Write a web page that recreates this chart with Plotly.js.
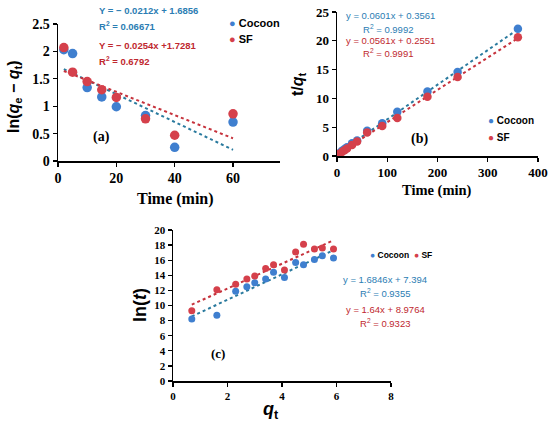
<!DOCTYPE html>
<html><head><meta charset="utf-8">
<script src="https://cdn.plot.ly/plotly-3.0.1.min.js"></script>
<style>html,body{margin:0;padding:0;background:#fff}</style>
</head><body><div id="chart" style="width:550px;height:422px"></div>
<script>
// ---- data ----
const timeA = [2, 5, 10, 15, 20, 30, 40, 60];
const lnA_cocoon = [2.03, 1.96, 1.34, 1.17, 0.99, 0.83, 0.25, 0.71];
const lnA_sf = [2.07, 1.62, 1.45, 1.30, 1.16, 0.77, 0.47, 0.86];
const lineA_cocoon = [-0.0254, 1.7281]; // dotted line as drawn (slope, intercept)
const lineA_sf = [-0.0212, 1.6856];
const lineA_x = [2, 60];

const timeB = [2, 5, 10, 15, 20, 30, 40, 60, 90, 120, 180, 240, 360];
const tqB_cocoon = [0.3, 0.5, 0.9, 1.2, 1.5, 2.2, 2.7, 4.4, 5.7, 7.7, 11.2, 14.6, 22.1];
const tqB_sf = [0.2, 0.4, 0.7, 1.0, 1.3, 1.9, 2.5, 4.1, 5.2, 6.6, 10.3, 13.7, 20.6];
const lineB_cocoon = [0.0601, 0.3561];
const lineB_sf = [0.0561, 0.2551];
const lineB_x = [0, 360];

const xC = [0.69, 1.61, 2.30, 2.71, 3.00, 3.40, 3.69, 4.09, 4.50, 4.79, 5.19, 5.48, 5.89];
const lnC_cocoon = [8.2, 8.7, 11.9, 12.5, 13.0, 13.5, 14.4, 13.7, 15.7, 15.4, 16.1, 16.6, 16.3];
const lnC_sf = [9.3, 12.1, 12.8, 13.5, 13.9, 14.9, 15.4, 14.7, 17.1, 18.1, 17.5, 17.6, 17.5];
const lineC_cocoon = [1.6846, 7.394];
const lineC_sf = [1.64, 8.9764];
const lineC_x = [0.69, 5.89];

const ticksA_x = [0, 20, 40, 60];
const ticksA_y = [0, 0.5, 1, 1.5, 2, 2.5];
const ticksA_ylab = ['0', '0.5', '1', '1.5', '2', '2.5'];
const ticksB_x = [0, 100, 200, 300, 400];
const ticksB_y = [0, 5, 10, 15, 20, 25];
const ticksC_x = [0, 2, 4, 6, 8];
const ticksC_y = [0, 2, 4, 6, 8, 10, 12, 14, 16, 18, 20];

// ---- styling ----
const BLUE = '#3f7fcf', RED = '#d5404b';
const EQBLUE = '#2b7db3', EQRED = '#c0282f';
const W = 550, H = 422;
const px = x => x / W, py = y => 1 - y / H;
const line = (c, xs) => xs.map(x => c[0] * x + c[1]);
const SERIF = "Liberation Serif, Times New Roman, Times, serif";
const SANS = "Liberation Sans, Arial, sans-serif";

function pts(x, y, xa, ya, color, size) {
  return {x, y, xaxis: xa, yaxis: ya, type: 'scatter', mode: 'markers',
    marker: {color, size, line: {width: 0}}, showlegend: false, hoverinfo: 'skip'};
}
function trend(xs, c, xa, ya, color) {
  return {x: xs, y: line(c, xs), xaxis: xa, yaxis: ya, type: 'scatter', mode: 'lines',
    line: {color, width: 2, dash: 'dot'}, showlegend: false, hoverinfo: 'skip'};
}

const traces = [
  trend(lineA_x, lineA_cocoon, 'x', 'y', '#2a7a9e'),
  trend(lineA_x, lineA_sf, 'x', 'y', '#c6323c'),
  pts(timeA, lnA_cocoon, 'x', 'y', BLUE, 9.5),
  pts(timeA, lnA_sf, 'x', 'y', RED, 9.5),
  trend(lineB_x, lineB_cocoon, 'x2', 'y2', '#2a7a9e'),
  trend(lineB_x, lineB_sf, 'x2', 'y2', '#c6323c'),
  pts(timeB, tqB_cocoon, 'x2', 'y2', BLUE, 8.5),
  pts(timeB, tqB_sf, 'x2', 'y2', RED, 8.5),
  trend(lineC_x, lineC_cocoon, 'x3', 'y3', '#2a7a9e'),
  trend(lineC_x, lineC_sf, 'x3', 'y3', '#c6323c'),
  pts(xC, lnC_cocoon, 'x3', 'y3', BLUE, 7),
  pts(xC, lnC_sf, 'x3', 'y3', RED, 7)
];

const serifB = (s) => ({family: SERIF, size: s, color: '#000', weight: 'bold'});
function ax(domain, range, tickvals, ticktext, anchor, fontSize) {
  const a = {domain, range, tickmode: 'array', tickvals, showline: true, linecolor: '#000',
    linewidth: 1.5, ticks: 'outside', ticklen: 4, tickwidth: 1.3, tickcolor: '#000',
    showgrid: false, zeroline: false, anchor, tickfont: serifB(fontSize), fixedrange: true};
  if (ticktext) a.ticktext = ticktext;
  return a;
}

const ann = [];
function t(x, y, text, font, opts) {
  ann.push(Object.assign({x: px(x), y: py(y), xref: 'paper', yref: 'paper', text, showarrow: false,
    xanchor: 'center', yanchor: 'middle', font}, opts || {}));
}
const sansB = (s, c) => ({family: SANS, size: s, color: c || '#000', weight: 'bold'});
const sans = (s, c) => ({family: SANS, size: s, color: c || '#000'});
const it = (s, size) => '<span style="font-style:italic;font-size:' + size + 'px">' + s + '</span>';
const dot = (c, size) => '<span style="color:' + c + ';font-size:' + size + 'px">●</span>';

// (a)
t(14, 97, 'ln(' + it('q', 16) + '<sub>e</sub> − ' + it('q', 16) + '<sub>t</sub>)', sansB(16), {textangle: -90});
t(175, 199, 'Time (min)', serifB(16));
t(97, 11, 'Y = − 0.0212x + 1.6856', sansB(9.5, EQBLUE), {xanchor: 'left'});
t(97, 26, 'R<sup>2</sup> = 0.06671', sansB(9.5, EQBLUE), {xanchor: 'left'});
t(97, 45, 'Y = − 0.0254x +1.7281', sansB(9.5, EQRED), {xanchor: 'left'});
t(97, 61, 'R<sup>2</sup> = 0.6792', sansB(9.5, EQRED), {xanchor: 'left'});
t(227, 23, dot(BLUE, 11) + ' Cocoon', sansB(11), {xanchor: 'left'});
t(227, 39, dot(RED, 11) + ' SF', sansB(11), {xanchor: 'left'});
t(101, 137, '(a)', serifB(14));

// (b)
t(298, 84, 't/' + it('q', 16) + '<sub>t</sub>', sansB(16), {textangle: -90});
t(437, 191, 'Time (min)', serifB(14.5));
t(390, 16, 'y = 0.0601x + 0.3561', sans(9.5, EQBLUE));
t(388, 29, 'R<sup>2</sup> = 0.9992', sans(9.5, EQBLUE));
t(390, 41, 'y = 0.0561x + 0.2551', sans(9.5, EQRED));
t(388, 53, 'R<sup>2</sup> = 0.9991', sans(9.5, EQRED));
t(486, 120, dot(BLUE, 10) + ' Cocoon', sansB(10), {xanchor: 'left'});
t(486, 138, dot(RED, 10) + ' SF', sansB(10), {xanchor: 'left'});
t(419, 139, '(b)', serifB(14));

// (c)
t(140, 305, 'ln(' + it('t', 18) + ')', sansB(18), {textangle: -90});
t(271, 410, it('q', 18) + '<sub>t</sub>', sansB(18));
t(368, 255, dot(BLUE, 8.5) + ' Cocoon  ' + dot(RED, 8.5) + ' SF', sansB(8.5), {xanchor: 'left'});
t(385, 279, 'y = 1.6846x + 7.394', sans(9.5, EQBLUE));
t(385, 293, 'R<sup>2</sup> = 0.9355', sans(9.5, EQBLUE));
t(385, 309, 'y = 1.64x + 8.9764', sans(9.5, EQRED));
t(385, 323, 'R<sup>2</sup> = 0.9323', sans(9.5, EQRED));
t(218, 353, '(c)', serifB(13));

const layout = {
  width: W, height: H, margin: {l: 0, r: 0, t: 0, b: 0},
  paper_bgcolor: '#fff', plot_bgcolor: 'rgba(0,0,0,0)', showlegend: false,
  xaxis: ax([px(58), px(280)], [0, 76.1], ticksA_x, null, 'y', 14),
  yaxis: ax([py(161), py(24)], [0, 2.5], ticksA_y, ticksA_ylab, 'x', 14),
  xaxis2: ax([px(337), px(538)], [0, 400], ticksB_x, null, 'y2', 13),
  yaxis2: ax([py(156), py(12)], [0, 25], ticksB_y, null, 'x2', 13),
  xaxis3: ax([px(173), px(391)], [0, 8], ticksC_x, null, 'y3', 11),
  yaxis3: ax([py(381), py(230)], [0, 20], ticksC_y, null, 'x3', 11),
  annotations: ann
};
Plotly.newPlot('chart', traces, layout, {staticPlot: true, displayModeBar: false});
</script></body></html>
